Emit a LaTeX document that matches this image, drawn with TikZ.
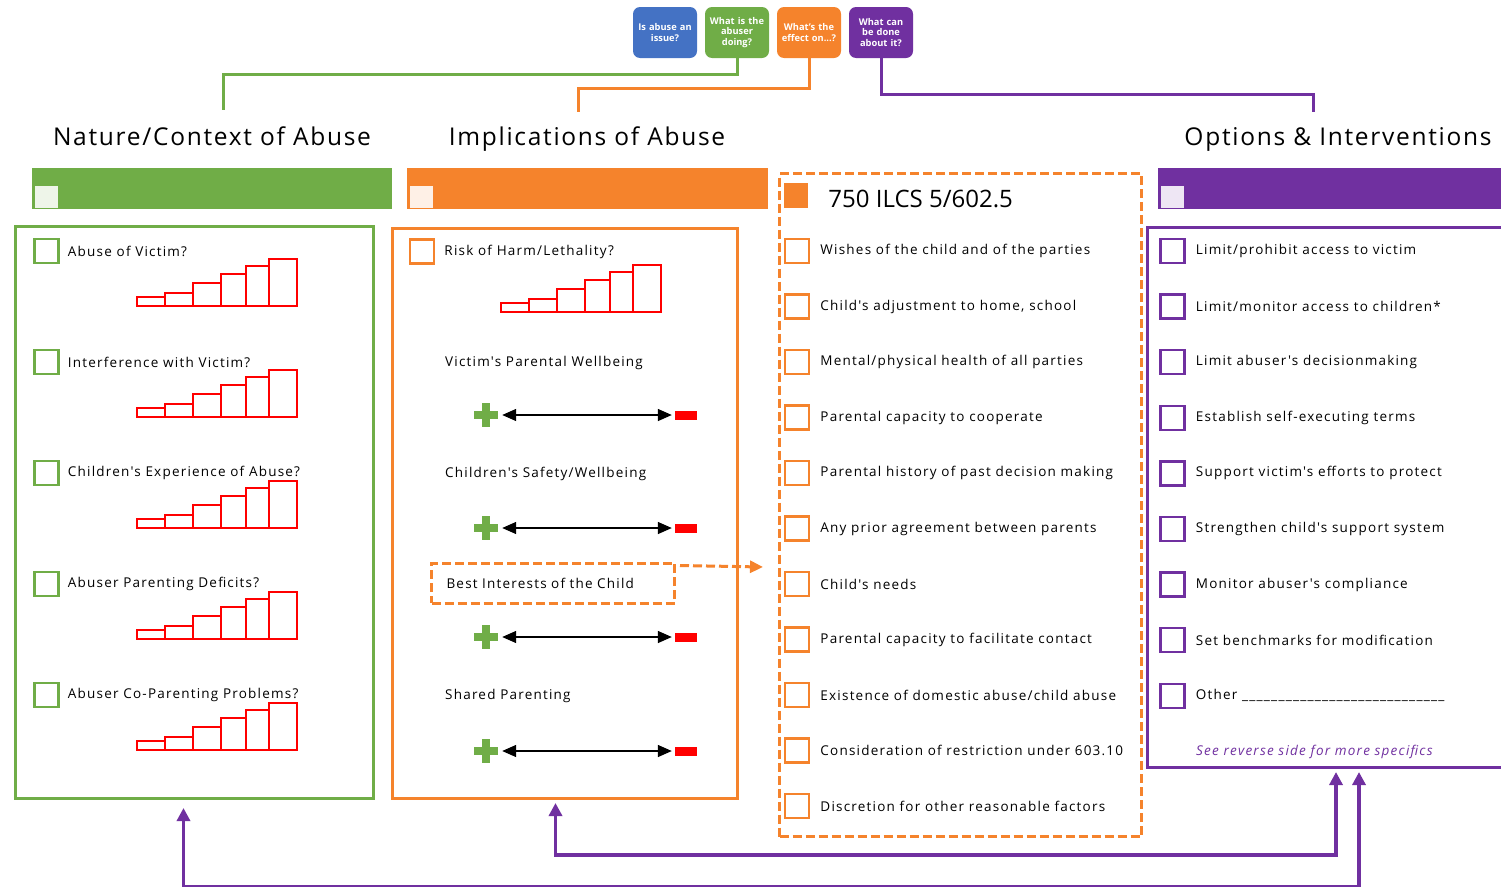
\documentclass[tikz,border=0pt]{standalone}
\usepackage{fontspec}
\setmainfont{Open Sans}
\newfontfamily\spacedfam{Open Sans}[LetterSpace=9]
\newfontfamily\headfam{Open Sans}[LetterSpace=7]
\usetikzlibrary{arrows.meta,positioning}
\definecolor{natgreen}{HTML}{70AD47}
\definecolor{impor}{HTML}{F5832C}
\definecolor{optpurple}{HTML}{7030A0}
\definecolor{askblue}{HTML}{4472C4}
\tikzset{%
  tipA/.tip={Triangle[length=14pt,width=12pt]},
  tipB/.tip={Triangle[length=13pt,width=13pt]},
  stairs/.pic={
    \foreach \l/\r/\h in {0/28/9, 28/56/13, 56/84/23, 84/109/32, 109/132/40, 132/160/47}
      \draw[red, line width=2.8pt] (\l,0) rectangle (\r,-\h);
  }
}

\begin{document}
\begin{tikzpicture}[x=1pt,y=-1pt,
  ask/.style={rounded corners=7pt, minimum width=64pt, minimum height=51pt, text width=62pt,
    inner sep=1pt, align=center, text=white, font=\bfseries\fontsize{9.3}{10.6}\selectfont},
  head/.style={anchor=base, text height=19pt, text depth=6pt, font=\headfam\fontsize{24.5}{30}\selectfont},
  lbl/.style={anchor=west, inner sep=0, font=\spacedfam\fontsize{13.5}{16}\selectfont},
  chk/.style={draw=#1, line width=2.5pt, minimum size=24pt, inner sep=0},
  colbox/.style={draw=#1, line width=3pt, anchor=north west, inner sep=0},
  qline/.style={draw=#1, line width=3pt},
  plusnode/.style={minimum size=24pt, inner sep=0, fill=white, path picture={
    \fill[natgreen] ([xshift=-12pt,yshift=-4pt]path picture bounding box.center) rectangle ([xshift=12pt,yshift=4pt]path picture bounding box.center);
    \fill[natgreen] ([xshift=-4pt,yshift=-12pt]path picture bounding box.center) rectangle ([xshift=4pt,yshift=12pt]path picture bounding box.center);}},
  minusnode/.style={fill=red, minimum width=22pt, minimum height=9pt, inner sep=0},
  scalearrow/.style={black, line width=1.4pt, tipA-tipA, shorten <=4pt, shorten >=3pt},
  backarrow/.style={optpurple, line width=3.5pt, tipB-tipB},
  dashbox/.style={draw=impor, line width=3pt, dash pattern=on 9pt off 4pt}]
\useasboundingbox (0,0) rectangle (1501,886);

% question buttons
\node[ask, fill=askblue] (btnB) at (665,32.5) {Is abuse an\\issue?};
\node[ask, fill=natgreen] (btnG) at (737,32.5) {What is the\\abuser\\doing?};
\node[ask, fill=impor] (btnO) at (809,32.5) {What's the\\effect on...?};
\node[ask, fill=optpurple] (btnP) at (881,32.5) {What can\\be done\\about it?};

% column headings
\node[head] (hNat) at (212,145) {Nature/Context of Abuse};
\node[head] (hImp) at (587,145) {Implications of Abuse};
\node[head] (hOpt) at (1338,145) {Options \& Interventions};

\draw[qline=natgreen] (btnG.south) -- ++(0,16) -| ([xshift=11pt,yshift=12pt]hNat.north);
\draw[qline=impor] (btnO.south) -- ++(0,30) -| ([xshift=-9pt,yshift=10pt]hImp.north);
\draw[qline=optpurple] (btnP.south) -- ++(0,36) -| ([xshift=-25pt,yshift=10pt]hOpt.north);

% header bars
\fill[natgreen] (32,168) rectangle (392,209);
\fill[natgreen!12] (35,186) rectangle (58,208);
\fill[impor] (407,168) rectangle (768,209);
\fill[impor!12] (410,186) rectangle (433,208);
\fill[optpurple] (1158,168) rectangle (1501,209);
\fill[optpurple!12] (1161,186) rectangle (1184,208);

% boxes
\node[colbox=natgreen, minimum width=358pt, minimum height=572pt] (natBox) at (14,225) {};
\node[colbox=impor, minimum width=345pt, minimum height=570pt] (impBox) at (391,227) {};
\node[dashbox, anchor=north west, inner sep=0, minimum width=362pt, minimum height=663pt] (bcBox) at (778,172) {};
\node[anchor=north west, inner sep=0, minimum width=363pt, minimum height=540pt] (optBox) at (1147,227) {};
\draw[qline=optpurple] (optBox.north east) -- (optBox.north west) -- (optBox.south west) -- (optBox.south east);

% nature/context
\foreach \t [count=\i] in {Abuse of Victim?, Interference with Victim?, Children's Experience of Abuse?, Abuser Parenting Deficits?, Abuser Co-Parenting Problems?}{
  \pgfmathsetmacro\yy{251+111*(\i-1)}
  \node[chk=natgreen] (natChk\i) at (46.5,\yy) {};
  \node[lbl, right=8pt of natChk\i] (natLbl\i) {\t};
  \pic at (137,{\yy+55}) {stairs};
}

% implications
\node[chk=impor] (impChk) at (422,251.5) {};
\node[lbl, right=9pt of impChk] (impLbl) {Risk of Harm/Lethality?};
\pic at (501,312) {stairs};
\node[lbl] (wellV) at (445,363) {Victim's Parental Wellbeing};
\node[lbl] (wellC) at (445,474) {Children's Safety/Wellbeing};
\node[dashbox, anchor=west, minimum height=40pt, text width=213pt, align=left, inner xsep=15pt, inner ysep=0,
  font=\spacedfam\fontsize{13.5}{16}\selectfont] (bestBox) at (430,583) {Best Interests of the Child};
\node[lbl] (shared) at (445,696) {Shared Parenting};
\foreach \yy [count=\i] in {415,528,637,751}{
  \node[plusnode] (plus\i) at (486,\yy) {};
  \node[minusnode] (minus\i) at (686,\yy) {};
  \draw[scalearrow] (plus\i) -- (minus\i);
}
\coordinate (bestTip) at (763,567);
\draw[impor, line width=3pt, dash pattern=on 9pt off 4pt, -{Triangle[length=13pt,width=12pt]}]
  ([xshift=4pt,yshift=-4pt]bestBox.north east) -- (bestTip);

% statute factors
\node[fill=impor, minimum width=24pt, minimum height=25pt, inner sep=0] (bcSq) at (796,195.5) {};
\node[anchor=west, inner sep=0, font=\fontsize{24}{30}\selectfont, right=20pt of bcSq, yshift=-3pt] (bcTitle) {750 ILCS 5/602.5};
\foreach \t [count=\i] in {Wishes of the child and of the parties, { Child's adjustment to home, school},
  Mental/physical health of all parties, Parental capacity to cooperate, Parental history of past decision making,
  Any prior agreement between parents, Child's needs, Parental capacity to facilitate contact,
  Existence of domestic abuse/child abuse, Consideration of restriction under 603.10, Discretion for other reasonable factors}{
  \pgfmathsetmacro\yy{251+55.5*(\i-1)}
  \node[chk=impor] (bcChk\i) at (797,\yy) {};
  \node[lbl, right=10pt of bcChk\i] (bcLbl\i) {\t};
}

% options
\foreach \t [count=\i] in {Limit/prohibit access to victim, Limit/monitor access to children*, Limit abuser's decisionmaking,
  Establish self-executing terms, Support victim's efforts to protect, Strengthen child's support system,
  Monitor abuser's compliance, Set benchmarks for modification,
  Other \_\_\_\_\_\_\_\_\_\_\_\_\_\_\_\_\_\_\_\_\_\_\_\_\_\_\_\_}{
  \pgfmathsetmacro\yy{251+55.6*(\i-1)}
  \node[chk=optpurple] (optChk\i) at (1172.5,\yy) {};
  \node[lbl, right=10pt of optChk\i] (optLbl\i) {\t};
}
\node[lbl, text=optpurple, font=\spacedfam\itshape\fontsize{13.5}{16}\selectfont] (seeRev) at (1196,752) {See reverse side for more specifics};

% feedback arrows
\coordinate (tipImp) at ([xshift=-9.5pt,yshift=-3pt]impBox.south);
\coordinate (tipNat) at ([xshift=-11pt,yshift=-8pt]natBox.south);
\coordinate (tipOpt1) at (1336,772);
\coordinate (tipOpt2) at (1359,772);
\draw[backarrow] (tipImp) -- ++(0,52) -| (tipOpt1);
\draw[backarrow] (tipNat) -- ++(0,79) -| (tipOpt2);
\end{tikzpicture}
\end{document}
